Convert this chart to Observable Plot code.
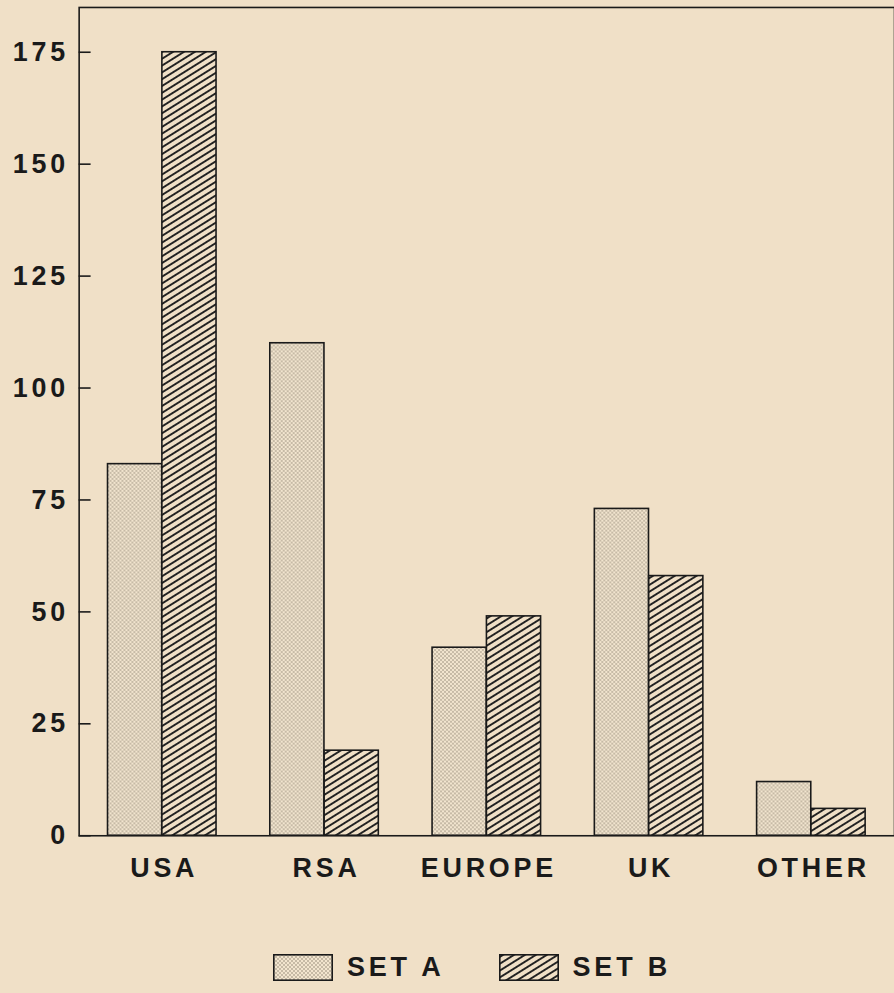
<!DOCTYPE html>
<html>
<head>
<meta charset="utf-8">
<script src="https://cdn.jsdelivr.net/npm/d3@7"></script>
<script src="https://cdn.jsdelivr.net/npm/@observablehq/plot@0.6"></script>
<style>
  html, body { margin: 0; padding: 0; background: #f0e0c7; overflow: hidden; }
  #chart svg { display: block; }
  #legend { display: flex; align-items: center; height: 27px; margin-top: 58px; padding-left: 273px;
    font-family: "Liberation Sans", Arial, sans-serif; font-weight: bold; font-size: 27px; letter-spacing: 3.8px; color: #1a1a1a; }
  #legend svg { display: block; }
  #legend .lab { margin-left: 14px; }
</style>
</head>
<body>
<div id="chart"></div>
<div id="legend"></div>
<script>
const countries = ["USA", "RSA", "EUROPE", "UK", "OTHER"];
const setA = [83, 110, 42, 73, 12];
const setB = [175, 19, 49, 58, 6];
const yTicks = [0, 25, 50, 75, 100, 125, 150, 175];
const seriesNames = ["SET A", "SET B"];

const rows = countries.map((c, i) => ({country: c, a: setA[i], b: setB[i]}));

const ink = "#1a1a1a";
const font = {fontSize: 27, fontWeight: "bold", fill: ink};

const svg = Plot.plot({
  width: 898,
  height: 900,
  marginLeft: 79,
  marginRight: 0,
  marginTop: 7,
  marginBottom: 61,
  style: {background: "transparent", fontFamily: "Liberation Sans, Arial, sans-serif", fontSize: "27px", color: ink, letterSpacing: "3.8px"},
  x: {domain: countries, paddingInner: 1 / 3, paddingOuter: 1 / 6},
  y: {domain: [0, 185]},
  marks: [
    Plot.barY(rows, {x: "country", y: "a", insetRight: 54.6, fill: "url(#dotsA)", stroke: ink, strokeWidth: 1.6}),
    Plot.barY(rows, {x: "country", y: "b", insetLeft: 54.6, fill: "url(#hatchB)", stroke: ink, strokeWidth: 1.6}),
    Plot.frame({stroke: ink, strokeWidth: 1.6}),
    Plot.axisY(yTicks, {tickSize: -12, tickPadding: 22.2, strokeWidth: 1.6, stroke: ink, label: null, ...font}),
    Plot.axisX({tickSize: 0, tickPadding: 22, dx: 2, label: null, ...font})
  ]
});

const defs = d3.select(svg).insert("defs", ":first-child");
const dots = defs.append("pattern").attr("id", "dotsA").attr("patternUnits", "userSpaceOnUse")
  .attr("width", 4).attr("height", 4);
dots.append("rect").attr("width", 4).attr("height", 4).attr("fill", "#f2e5cf");
dots.append("circle").attr("cx", 1).attr("cy", 1).attr("r", 0.75).attr("fill", "#857a6a");
dots.append("circle").attr("cx", 3).attr("cy", 3).attr("r", 0.75).attr("fill", "#857a6a");
const hatch = defs.append("pattern").attr("id", "hatchB").attr("patternUnits", "userSpaceOnUse")
  .attr("width", 10).attr("height", 5.8).attr("patternTransform", "rotate(-32)");
hatch.append("rect").attr("width", 10).attr("height", 5.8).attr("fill", "#f0e0c7");
hatch.append("line").attr("x1", 0).attr("x2", 10).attr("y1", 2.9).attr("y2", 2.9)
  .attr("stroke", "#222").attr("stroke-width", 1.9);

document.getElementById("chart").appendChild(svg);

const legend = d3.select("#legend");
const fills = ["url(#dotsA)", "url(#hatchB)"];
seriesNames.forEach((name, i) => {
  const s = legend.append("svg").attr("width", 60).attr("height", 27)
    .style("margin-left", i === 0 ? "0px" : "54px");
  s.append("rect").attr("x", 0.8).attr("y", 0.8).attr("width", 58.4).attr("height", 25.4)
    .attr("fill", fills[i]).attr("stroke", ink).attr("stroke-width", 1.6);
  legend.append("span").attr("class", "lab").text(name);
});
</script>
</body>
</html>
